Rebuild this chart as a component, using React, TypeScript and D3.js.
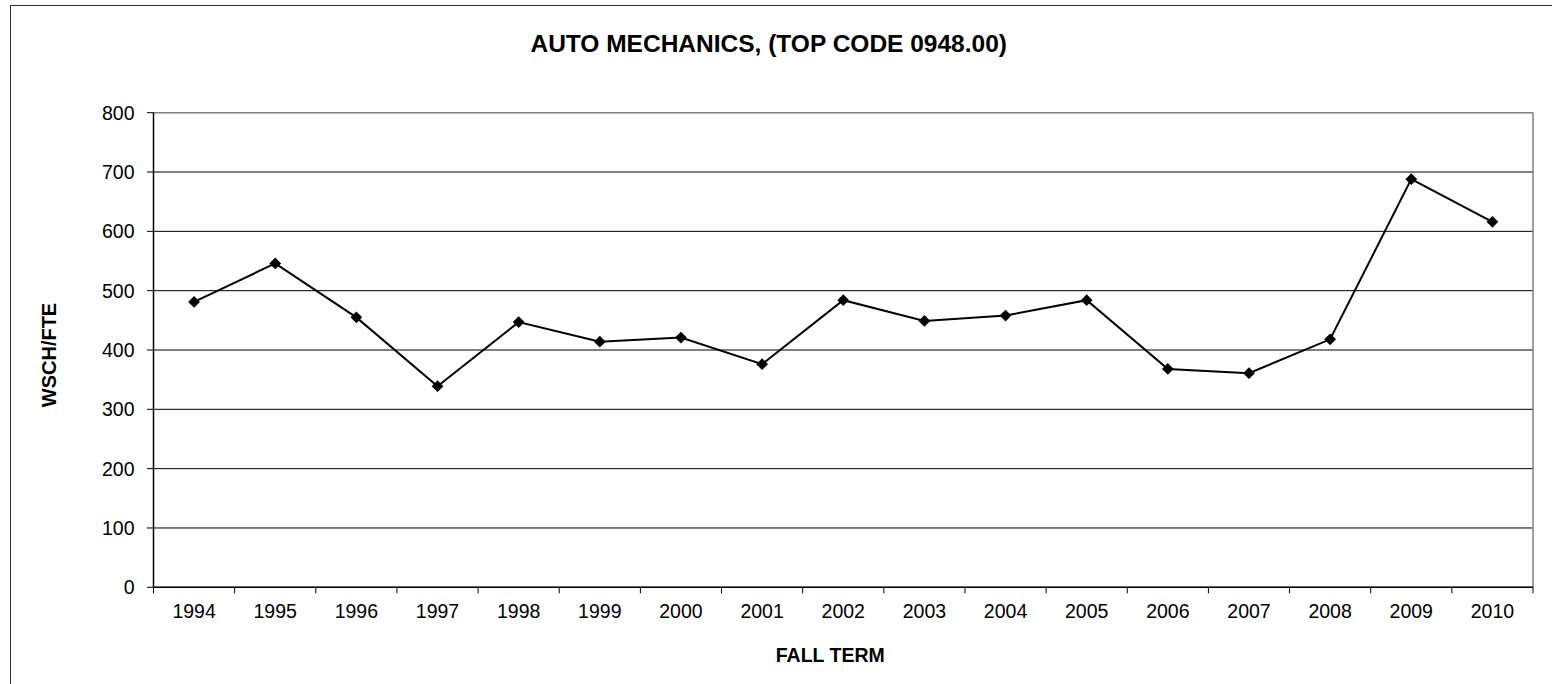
import React from "react";
import * as d3 from "d3";

const years = ["1994","1995","1996","1997","1998","1999","2000","2001","2002","2003","2004","2005","2006","2007","2008","2009","2010"];
const values = [481, 546, 455, 339, 447, 414, 421, 376, 484, 449, 458, 484, 368, 361, 418, 688, 616];
const yTicks = [0, 100, 200, 300, 400, 500, 600, 700, 800];
const title = "AUTO MECHANICS, (TOP CODE 0948.00)";
const xTitle = "FALL TERM";
const yTitle = "WSCH/FTE";

const W = 1552;
const H = 684;
const plot = { left: 153.5, right: 1533, top: 112.7, bottom: 587.3 };
const font = "Arial, 'Liberation Sans', Helvetica, sans-serif";

export default function App() {
  const x = d3.scaleBand<string>().domain(years).range([plot.left, plot.right]).padding(0);
  const y = d3.scaleLinear().domain([0, 800]).range([plot.bottom, plot.top]);
  const cx = (d: string) => (x(d) as number) + x.bandwidth() / 2;
  const line = d3
    .line<number>()
    .x((_, i) => cx(years[i]))
    .y((v) => y(v));
  const diamond = d3.symbol().type(d3.symbolDiamond2 || d3.symbolDiamond).size(88)();
  const boundaries = years.map((d) => x(d) as number).concat([plot.right]);

  return (
    <svg
      width={W}
      height={H}
      style={{ position: "fixed", left: 0, top: 0, background: "#fff" }}
      fontFamily={font}
    >
      <rect x={0} y={0} width={W} height={H} fill="#fff" />
      {/* outer frame */}
      <rect x={10.5} y={5.5} width={1700} height={900} fill="none" stroke="#333" strokeWidth={1} />
      {/* title */}
      <text x={768.7} y={52} textAnchor="middle" fontSize={24.5} fontWeight="bold" fill="#000">
        {title}
      </text>
      {/* gridlines */}
      {yTicks.map((t) => (
        <line key={t} x1={plot.left} x2={plot.right} y1={y(t)} y2={y(t)} stroke="#000" strokeWidth={1} />
      ))}
      {/* plot border top/right */}
      <line x1={plot.left} x2={plot.right} y1={plot.top} y2={plot.top} stroke="#808080" strokeWidth={1.2} />
      <line x1={plot.right} x2={plot.right} y1={plot.top} y2={plot.bottom} stroke="#808080" strokeWidth={1.5} />
      {/* axes */}
      <line x1={plot.left} x2={plot.left} y1={plot.top} y2={plot.bottom} stroke="#000" strokeWidth={1.5} />
      <line x1={plot.left} x2={plot.right} y1={plot.bottom} y2={plot.bottom} stroke="#000" strokeWidth={1.5} />
      {/* y ticks */}
      {yTicks.map((t) => (
        <g key={"yt" + t}>
          <line x1={plot.left - 6.5} x2={plot.left} y1={y(t)} y2={y(t)} stroke="#000" strokeWidth={1} />
          <text x={134.5} y={y(t)} dy="0.36em" textAnchor="end" fontSize={19.5} fill="#000">
            {t}
          </text>
        </g>
      ))}
      {/* x ticks */}
      {boundaries.map((b, i) => (
        <line key={"xt" + i} x1={b} x2={b} y1={plot.bottom} y2={plot.bottom + 6} stroke="#000" strokeWidth={1} />
      ))}
      {years.map((d) => (
        <text key={"xl" + d} x={cx(d)} y={618.3} textAnchor="middle" fontSize={19.5} fill="#000">
          {d}
        </text>
      ))}
      {/* axis titles */}
      <text x={830.3} y={662} textAnchor="middle" fontSize={19.5} fontWeight="bold" fill="#000">
        {xTitle}
      </text>
      <text
        transform={`translate(55.5, 355) rotate(-90)`}
        textAnchor="middle"
        fontSize={20}
        fontWeight="bold"
        fill="#000"
      >
        {yTitle}
      </text>
      {/* series */}
      <path d={line(values) || ""} fill="none" stroke="#000" strokeWidth={2} />
      {values.map((v, i) => (
        <path key={"m" + i} d={diamond || ""} transform={`translate(${cx(years[i])},${y(v)})`} fill="#000" />
      ))}
    </svg>
  );
}
